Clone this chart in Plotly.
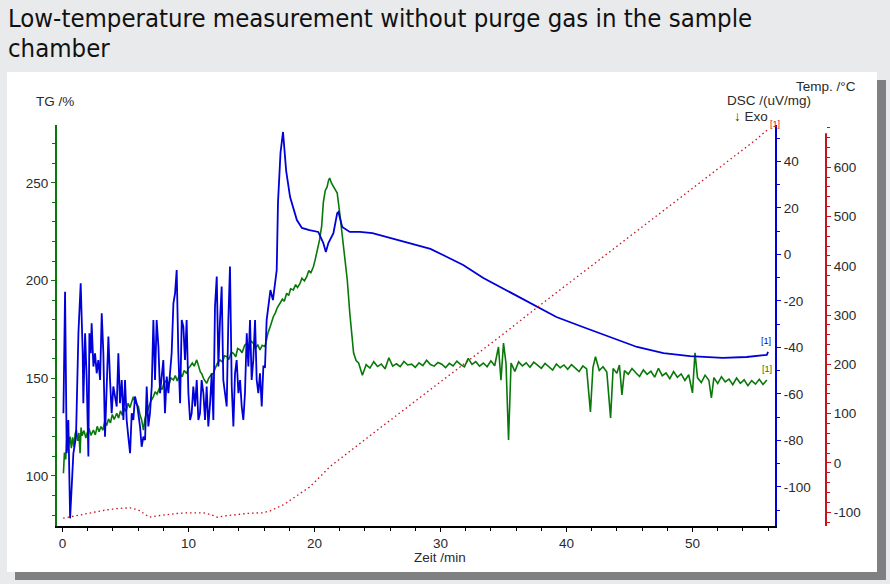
import plotly.graph_objects as go

# ---------------- data ----------------
# DSC  (uV/mg) vs time (min)
dsc_t = [0.07, 0.20, 0.33, 0.46, 0.60, 0.73, 0.86, 1.07, 1.26, 1.44, 1.60, 1.65, 1.79, 1.92, 2.05,
         2.13, 2.24, 2.31, 2.45, 2.58, 2.71, 2.84, 2.98, 3.11, 3.24, 3.37, 3.51, 3.64, 3.77, 3.90,
         4.03, 4.30, 4.43, 4.56, 4.70, 4.83, 4.96, 5.09, 5.22, 5.36, 5.49, 5.62, 5.75, 5.94, 6.15,
         6.28, 6.42, 6.55, 6.68, 6.81, 6.94, 7.08, 7.21, 7.34, 7.47, 7.61, 7.74, 7.87, 8.00, 8.13,
         8.27, 8.40, 8.53, 8.66, 8.80, 8.93, 9.06, 9.19, 9.33, 9.46, 9.59, 9.72, 9.85, 9.99, 10.12,
         10.25, 10.38, 10.52, 10.65, 10.78, 10.91, 11.04, 11.18, 11.31, 11.44, 11.57, 11.71, 11.84,
         11.97, 12.10, 12.24, 12.37, 12.50, 12.63, 12.76, 12.90, 13.03, 13.16, 13.29, 13.43, 13.56,
         13.69, 13.82, 13.96, 14.09, 14.22, 14.35, 14.48, 14.62, 14.75, 14.88, 15.01, 15.14, 15.28,
         15.41, 15.54, 15.67, 15.81, 15.94, 16.07, 16.20, 16.50, 16.70, 17.00, 17.10, 17.30, 17.50,
         17.75, 18.06, 18.60, 19.00, 19.60, 20.30, 20.70, 20.90, 21.10, 21.50, 21.80, 21.90, 22.00,
         22.20, 22.80, 23.60, 24.60, 26.00, 27.60, 29.20, 30.20, 31.80, 33.40, 35.00, 37.10, 39.20,
         41.30, 43.50, 45.60, 47.70, 49.80, 52.40, 54.30, 55.90, 56.00]
dsc_v = [-68.3, -16.0, -85.5, -71.2, -113.5, -99.9, -85.5, -78.4, -33.9, -12.4, -42.5, -64.0, -33.9,
         -54.0, -86.9, -33.9, -42.5, -29.6, -48.2, -42.5, -51.1, -45.4, -54.0, -25.3, -42.5, -78.4,
         -56.8, -35.3, -54.0, -68.3, -56.8, -65.4, -42.5, -64.0, -54.0, -71.2, -54.0, -71.2, -78.4,
         -85.5, -68.3, -71.2, -61.1, -65.4, -74.0, -82.7, -78.4, -79.8, -56.8, -74.0, -68.3, -56.8,
         -28.2, -54.0, -28.2, -39.6, -59.7, -51.1, -45.4, -68.3, -52.5, -59.7, -51.1, -42.5, -21.0,
         -16.7, -6.7, -42.5, -64.0, -28.2, -31.0, -45.4, -28.2, -59.7, -71.2, -68.3, -56.8, -65.4,
         -54.0, -71.2, -68.3, -54.0, -59.7, -71.2, -56.8, -74.0, -64.0, -51.1, -71.2, -22.4, -9.5,
         -48.2, -28.2, -13.8, -54.0, -59.7, -65.4, -28.2, -5.2, -56.8, -74.0, -51.1, -45.4, -59.7,
         -54.0, -65.4, -71.2, -59.7, -33.9, -48.2, -28.2, -54.0, -45.4, -28.2, -54.0, -59.7, -51.1,
         -65.4, -48.2, -48.4, -28.2, -15.3, -19.6, -6.7, 22.2, 43.7, 52.7, 36.0, 24.7, 14.8, 11.4,
         10.5, 9.7, 4.9, 1.1, 4.9, 9.2, 17.8, 18.3, 16.1, 11.8, 9.7, 9.7, 9.2, 7.1, 4.9, 2.4, -0.2,
         -4.5, -10.1, -14.8, -20.9, -26.9, -31.2, -35.5, -39.8, -42.4, -43.7, -44.5, -44.1, -43.2,
         -41.9]

# TG (%) vs time (min)
tg_t = [0.07, 0.15, 0.25, 0.33, 0.42, 0.50, 0.60, 0.70, 0.80, 0.90, 1.00, 1.10, 1.20, 1.30, 1.39,
        1.47, 1.55, 1.70, 1.85, 1.95, 2.10, 2.25, 2.45, 2.60, 2.75, 2.90, 3.05, 3.20, 3.35, 3.50,
        3.65, 3.80, 3.95, 4.10, 4.30, 4.45, 4.60, 4.75, 4.90, 5.05, 5.20, 5.35, 5.50, 5.62, 5.75,
        5.90, 6.02, 6.15, 6.28, 6.42, 6.55, 6.68, 6.85, 7.00, 7.21, 7.35, 7.50, 7.74, 7.90, 8.05,
        8.27, 8.45, 8.60, 8.80, 8.95, 9.10, 9.33, 9.50, 9.65, 9.85, 10.00, 10.12, 10.30, 10.45,
        10.65, 10.80, 10.95, 11.04, 11.20, 11.44, 11.60, 11.80, 11.97, 12.15, 12.30, 12.50, 12.70,
        12.85, 13.03, 13.20, 13.40, 13.56, 13.75, 13.90, 14.09, 14.25, 14.45, 14.62, 14.80, 14.95,
        15.14, 15.30, 15.50, 15.67, 15.85, 16.07, 16.20, 16.30, 16.50, 16.73, 16.90, 17.05, 17.26,
        17.45, 17.60, 17.79, 17.95, 18.10, 18.32, 18.50, 18.65, 18.85, 19.00, 19.20, 19.38, 19.55,
        19.70, 19.91, 20.05, 20.17, 20.40, 20.57, 20.70, 20.85, 21.00, 21.10, 21.20, 21.35, 21.50,
        21.65, 21.80, 22.00, 22.30, 22.60, 22.80, 23.10, 23.30,
        23.5, 23.8, 24.1, 24.4, 24.7, 25.0, 25.3, 25.6, 25.9, 26.2, 26.5, 26.8, 27.1, 27.4, 27.7,
        28.0, 28.3, 28.6, 28.9, 29.2, 29.5, 29.8, 30.1, 30.4, 30.7, 31.0, 31.3, 31.6, 31.9, 32.2,
        32.5, 32.8, 33.1, 33.4, 33.7, 34.0, 34.3, 34.6, 34.8, 35.0, 35.2, 35.4, 35.6, 35.9, 36.2,
        36.5, 36.8, 37.1, 37.4, 37.7, 38.0, 38.3, 38.6, 38.9, 39.2, 39.5, 39.8, 40.1, 40.4, 40.7,
        41.0, 41.3, 41.6, 41.9, 42.1, 42.3, 42.6, 42.9, 43.2, 43.5, 43.7, 44.0, 44.2, 44.4, 44.6,
        44.9, 45.2, 45.5, 45.8, 46.1, 46.4, 46.7, 47.0, 47.3, 47.6, 47.9, 48.2, 48.5, 48.8, 49.1,
        49.4, 49.7, 50.0, 50.2, 50.4, 50.7, 51.0, 51.3, 51.5, 51.7, 52.0, 52.3, 52.6, 52.9, 53.2,
        53.5, 53.8, 54.1, 54.4, 54.7, 55.0, 55.3, 55.6, 55.9]
tg_v = [101.4, 112.0, 108.5, 118.4, 113.0, 116.5, 120.1, 114.2, 119.8, 115.0, 121.5, 123.5, 117.9,
        122.0, 111.6, 124.8, 120.6, 123.2, 119.4, 121.8, 124.3, 120.8, 123.5, 121.0, 125.4, 122.6,
        125.3, 123.4, 127.9, 125.8, 129.2, 127.1, 131.5, 128.9, 132.1, 129.6, 133.4, 131.0, 134.7,
        132.9, 137.2, 135.0, 139.0, 140.6, 137.8, 136.5, 135.5, 131.2, 128.7, 123.5, 129.6, 132.1,
        135.8, 138.2, 140.6, 143.1, 141.9, 145.7, 144.2, 147.5, 149.1, 146.8, 150.2, 149.1, 151.4,
        148.6, 152.5, 150.8, 154.0, 152.5, 155.3, 156.0, 157.8, 156.2, 159.4, 156.1, 153.0, 152.5,
        149.8, 147.4, 150.0, 151.9, 152.5, 155.6, 157.8, 159.4, 158.3, 161.5, 161.1, 159.6, 163.4,
        162.8, 161.0, 165.2, 164.5, 163.1, 166.8, 167.9, 165.9, 169.1, 167.9, 165.4, 167.0, 164.5,
        166.9, 166.2, 170.1, 173.0, 176.8, 181.5, 183.6, 186.2, 188.4, 190.5, 189.4, 193.5, 192.3,
        195.8, 195.2, 197.9, 196.4, 198.6, 201.2, 199.8, 202.0, 205.2, 203.8, 207.1, 210.6, 214.0,
        220.8, 228.0, 240.0, 246.0, 247.9, 251.0, 252.5, 249.8, 247.9, 246.2, 244.8, 234.6, 217.2,
        200.3, 183.4, 163.0, 159.1,
        157.8, 151.5, 157.0, 155.2, 158.5, 156.0, 157.3, 154.8, 160.5, 156.2, 157.4, 155.9, 158.6,
        156.8, 157.2, 155.6, 157.9, 156.5, 159.2, 157.0, 156.2, 158.1, 157.2, 155.4, 157.6, 156.3,
        158.8, 157.0, 155.8, 160.2, 157.1, 158.5, 156.2, 157.8, 155.9, 158.9, 156.4, 166.0, 149.0,
        168.0, 157.5, 118.4, 157.8, 153.5, 158.4, 156.3, 157.9, 155.6, 158.2, 156.7, 155.1, 157.6,
        156.0, 154.2, 157.3, 155.4, 156.8, 154.6, 157.0, 155.2, 153.4, 156.3, 154.8, 132.8, 155.5,
        161.0, 154.0, 155.9, 153.2, 129.7, 155.0, 152.6, 156.8, 141.5, 153.9, 152.1, 155.0, 152.8,
        150.9, 154.3, 152.0, 153.6, 150.6, 155.1, 151.3, 152.7, 149.8, 153.4, 150.5, 152.2, 148.9,
        151.8, 142.5, 163.0, 150.2, 147.8, 151.6, 149.0, 139.9, 150.3, 147.3, 150.8, 148.1, 149.6,
        146.7, 150.1, 147.4, 149.2, 146.2, 148.8, 147.0, 149.5, 146.8, 149.1]

# Temperature (°C) vs time (min)
temp_t = [0.05, 0.8, 1.6, 2.5, 3.5, 4.5, 5.4, 6.0, 6.5, 6.9, 7.6, 8.3, 9.2, 10.1, 11.2, 11.8, 12.3,
          13.0, 13.8, 14.8, 15.9, 16.5, 17.0, 17.6, 18.1, 18.9, 19.6, 20.4, 21.2, 25.0, 30.0, 35.0,
          37.7, 40.0, 45.0, 50.0, 55.0, 56.1]
temp_v = [-112, -108, -105, -100, -95, -92, -91, -95, -104, -110, -107, -105, -102, -101, -101, -105,
          -110, -107, -105, -102, -101, -97, -91, -84, -75, -62, -49, -29, -8, 67, 164, 262, 316,
          361, 459, 557, 655, 679]

# axis ticks
x_ticks = [0, 10, 20, 30, 40, 50]
tg_ticks = [100, 150, 200, 250]
dsc_ticks = [-100, -80, -60, -40, -20, 0, 20, 40]
temp_ticks = [-100, 0, 100, 200, 300, 400, 500, 600]

TITLE_LINE1 = "Low-temperature measurement without purge gas in the sample"
TITLE_LINE2 = "chamber"

# ---------------- styling ----------------
GREEN = "#087808"
BLUE = "#0000d8"
RED = "#c8101e"
TXT = "#2a2a2a"
FONT = "Liberation Sans"
FS = 13.5

# plot-area geometry (px): left 57, right 826, top 125, bottom 526
W, H = 890, 584
L, R, T, B = 57, 64, 125, 58
PW, PH = W - L - R, H - T - B


def px(xp):
    return (xp - L) / PW


def py(yp):
    return (H - B - yp) / PH


fig = go.Figure()
fig.add_trace(go.Scatter(x=temp_t, y=temp_v, yaxis="y3", mode="lines",
                         line=dict(color=RED, width=1.3, dash="1.5px,3px"), hoverinfo="skip"))
fig.add_trace(go.Scatter(x=dsc_t, y=dsc_v, yaxis="y2", mode="lines",
                         line=dict(color=BLUE, width=1.8), hoverinfo="skip"))
fig.add_trace(go.Scatter(x=tg_t, y=tg_v, yaxis="y", mode="lines",
                         line=dict(color=GREEN, width=1.6), hoverinfo="skip"))

tickfont = dict(family=FONT, size=FS, color=TXT)

fig.update_layout(
    width=W, height=H,
    margin=dict(l=L, r=R, t=T, b=B),
    paper_bgcolor="#e9eaec",
    plot_bgcolor="white",
    showlegend=False,
    xaxis=dict(domain=[0, px(775)], range=[-0.44, 56.55], showline=True, linecolor="#000",
               linewidth=2, ticks="outside", ticklen=4, tickcolor="#000", tickmode="array",
               tickvals=x_ticks, ticktext=[str(v) for v in x_ticks], tickfont=tickfont,
               minor=dict(dtick=2, ticklen=3, tickcolor="#000", ticks="outside"),
               showgrid=False, zeroline=False),
    yaxis=dict(range=[74.4, 279.6], showline=True, linecolor=GREEN, linewidth=2,
               ticks="outside", ticklen=4, tickcolor=GREEN, tickmode="array",
               tickvals=tg_ticks, ticktext=[str(v) for v in tg_ticks], tickfont=tickfont,
               minor=dict(tickmode="linear", tick0=0, dtick=10, ticklen=3, tickcolor=GREEN,
                          ticks="outside"),
               showgrid=False, zeroline=False),
    yaxis2=dict(range=[-116.8, 55.7], overlaying="y", side="right", anchor="x",
                showline=True, linecolor=BLUE, linewidth=2, ticks="outside", ticklen=4,
                tickcolor=BLUE, tickmode="array", tickvals=dsc_ticks,
                ticktext=[str(v) for v in dsc_ticks], tickfont=tickfont,
                minor=dict(tickmode="linear", tick0=0, dtick=10, ticklen=3, tickcolor=BLUE,
                           ticks="outside"),
                showgrid=False, zeroline=False),
    yaxis3=dict(range=[-127.8, 685.5], overlaying="y", side="right", anchor="free",
                position=1.0, showline=False, ticks="outside", ticklen=4, tickcolor=RED,
                tickmode="array", tickvals=temp_ticks, ticktext=[str(v) for v in temp_ticks],
                tickfont=tickfont,
                minor=dict(tickmode="linear", tick0=0, dtick=20, ticklen=3, tickcolor=RED,
                           ticks="outside"),
                showgrid=False, zeroline=False),
)

shapes = [
    # shadow of the white panel
    dict(type="rect", xref="paper", yref="paper", x0=px(15), x1=px(886), y0=py(580), y1=py(80),
         fillcolor="#808080", line=dict(width=0), layer="below"),
    # white panel
    dict(type="rect", xref="paper", yref="paper", x0=px(7), x1=px(877), y0=py(572), y1=py(72),
         fillcolor="white", line=dict(width=0), layer="below"),
    # temperature axis line
    dict(type="line", xref="paper", yref="y3", x0=1.0, x1=1.0, y0=-127.8, y1=669,
         line=dict(color=RED, width=2)),
]
fig.update_layout(shapes=shapes)

ann = []


def label(text, x, y, size=FS, color=TXT, xanchor="center", family=FONT):
    ann.append(dict(text=text, xref="paper", yref="paper", x=x, y=y, showarrow=False,
                    xanchor=xanchor, yanchor="middle", font=dict(family=family, size=size,
                                                                 color=color)))


label(TITLE_LINE1, px(6), py(18), size=25.5, color="#111", xanchor="left",
      family="DejaVu Sans Condensed, DejaVu Sans")
label(TITLE_LINE2, px(6), py(48), size=25.5, color="#111", xanchor="left",
      family="DejaVu Sans Condensed, DejaVu Sans")
label("TG /%", px(55), py(102))
label("Temp. /°C", px(826), py(87))
label("DSC /(uV/mg)", px(769), py(101))
label("↓ Exo", px(751), py(117))
label("Zeit /min", px(440), py(557))
label("[1]", px(766), py(341), size=9, color=BLUE)
label("[1]", px(767), py(369), size=9, color=GREEN)
label("[1]", px(775), py(124), size=9, color=RED)
fig.update_layout(annotations=ann)

fig.write_html("out.html")
